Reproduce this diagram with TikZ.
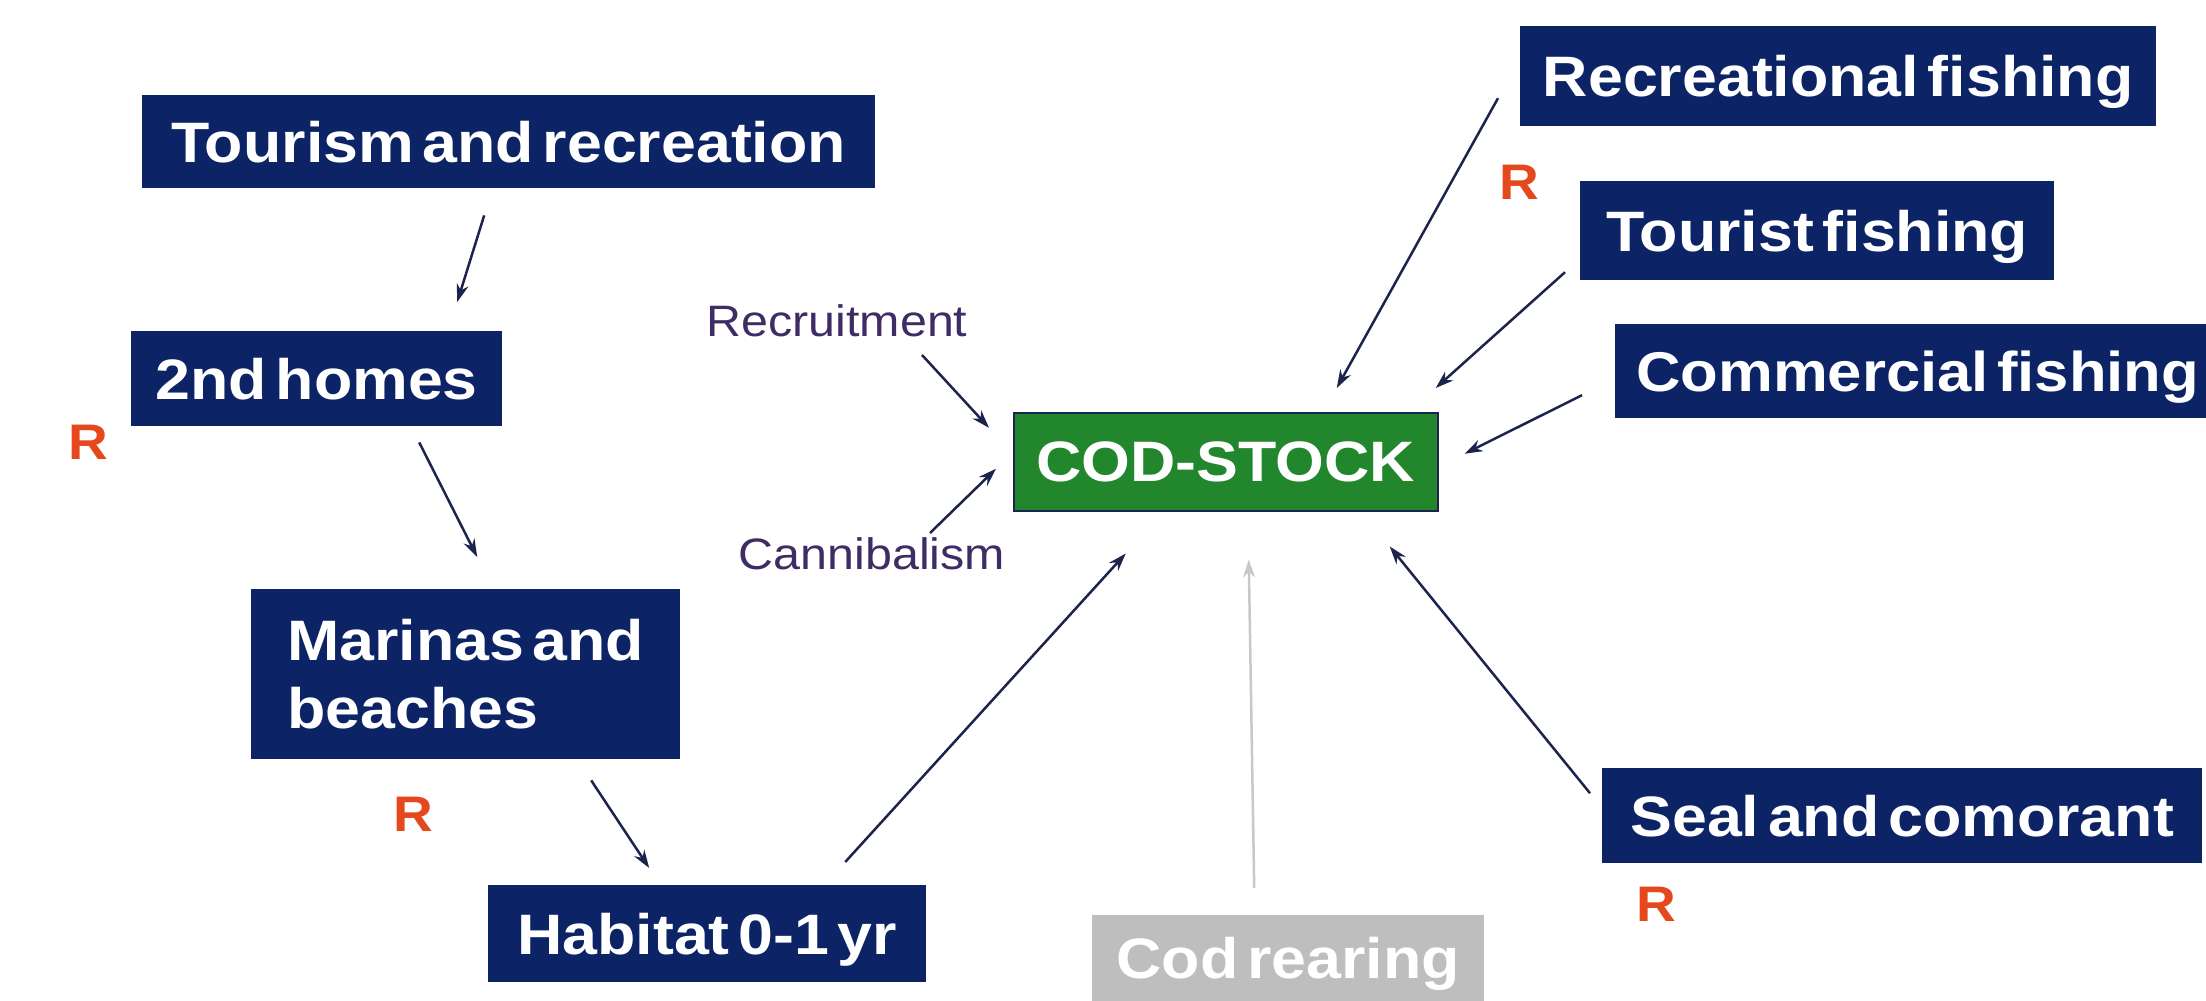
\documentclass[tikz,border=0pt]{standalone}
\usepackage{fontspec}
\setmainfont[FakeStretch=1.1,WordSpace=0.5]{Liberation Sans}
\usetikzlibrary{calc,arrows.meta}
\definecolor{navy}{RGB}{12,36,102}
\definecolor{codgreen}{RGB}{34,134,44}
\definecolor{rred}{RGB}{228,72,28}
\definecolor{lblpurple}{RGB}{62,44,100}
\definecolor{arrowcol}{RGB}{28,36,78}
\definecolor{rearbox}{RGB}{190,190,190}
\definecolor{reararrow}{RGB}{200,200,200}
\begin{document}
\begin{tikzpicture}[x=1pt,y=-1pt,
  boxbase/.style={anchor=north west,inner sep=0pt,text=white,text depth=0pt,align=left,
    font=\fontsize{57}{68}\selectfont\bfseries},
  navybox/.style={boxbase,fill=navy},
  greenbox/.style={boxbase,fill=codgreen,draw=arrowcol,line width=1.5pt},
  graybox/.style={boxbase,fill=rearbox},
  smalllbl/.style={inner sep=0pt,text=lblpurple,font=\fontsize{44}{52}\selectfont},
  rmark/.style={inner sep=0pt,text=rred,font=\fontsize{50}{60}\selectfont\bfseries},
  arr/.style={draw=arrowcol,line width=2.5pt,-{Stealth[length=18pt,width=12pt]}},
  grayarr/.style={draw=reararrow,line width=2.5pt,-{Stealth[length=18pt,width=12pt]}}
]
\useasboundingbox (0,0) rectangle (2206,1001);
\clip (0,0) rectangle (2206,1001);
\fill[white] (0,0) rectangle (2206,1001);

% boxes
\node[navybox,minimum width=733pt,minimum height=93pt] (tour) at (142,95) {Tourism and recreation};
\node[navybox,minimum width=371pt,minimum height=95pt] (homes) at (131,331) {2nd homes};
\node[navybox,minimum width=429pt,minimum height=170pt] (marinas) at (251,589) {Marinas and\\beaches};
\node[navybox,minimum width=438pt,minimum height=97pt] (habitat) at (488,885) {Habitat 0-1 yr};
\node[greenbox,minimum width=424pt,minimum height=98pt] (cod) at (1013,412) {COD-STOCK};
\node[navybox,minimum width=636pt,minimum height=100pt] (rec) at (1520,26) {Recreational fishing};
\node[navybox,minimum width=474pt,minimum height=99pt] (tourist) at (1580,181) {Tourist fishing};
\node[navybox,minimum width=605pt,minimum height=94pt,font=\fontsize{56}{67}\selectfont\bfseries] (comm) at (1615,324) {Commercial fishing};
\node[navybox,minimum width=600pt,minimum height=95pt] (seal) at (1602,768) {Seal and comorant};
\node[graybox,minimum width=392pt,minimum height=86pt] (codrear) at (1092,915) {Cod rearing};

% small labels
\node[smalllbl] (recruit) at (837,321) {Recruitment};
\node[smalllbl] (cannib) at (872,554) {Cannibalism};

% R marks
\node[rmark] (r1) at (88,442) {R};
\node[rmark] (r2) at (1519,182) {R};
\node[rmark] (r3) at (413,814) {R};
\node[rmark] (r4) at (1656,904) {R};

% connectors
\draw[arr] ($(tour.south)+(-24.5,27)$) -- ($(homes.north)+(140.5,-29)$);
\draw[arr] ($(homes.south)+(102.5,16)$) -- ($(marinas.north)+(11.5,-32)$);
\draw[arr] ($(marinas.south)+(125.5,21)$) -- ($(habitat.north)+(-58,-17)$);
\draw[arr] ($(habitat.north)+(138,-23)$) -- ($(cod.south)+(-100,42)$);
\draw[arr] ($(recruit.center)+(85,34)$) -- ($(cod.west)+(-24,-34)$);
\draw[arr] ($(cannib.center)+(58,-21)$) -- ($(cod.west)+(-17,7)$);
\draw[arr] ($(rec.west)+(-22,22)$) -- ($(cod.north)+(111,-24)$);
\draw[arr] ($(tourist.west)+(-15,41.5)$) -- ($(cod.north)+(210,-24)$);
\draw[arr] ($(comm.west)+(-33,24)$) -- ($(cod.east)+(26,-8)$);
\draw[arr] ($(seal.west)+(-12,-22.5)$) -- ($(cod.south)+(164,35)$);
\draw[grayarr] ($(codrear.north)+(-34,-27)$) -- ($(cod.south)+(23,48)$);
\end{tikzpicture}
\end{document}
